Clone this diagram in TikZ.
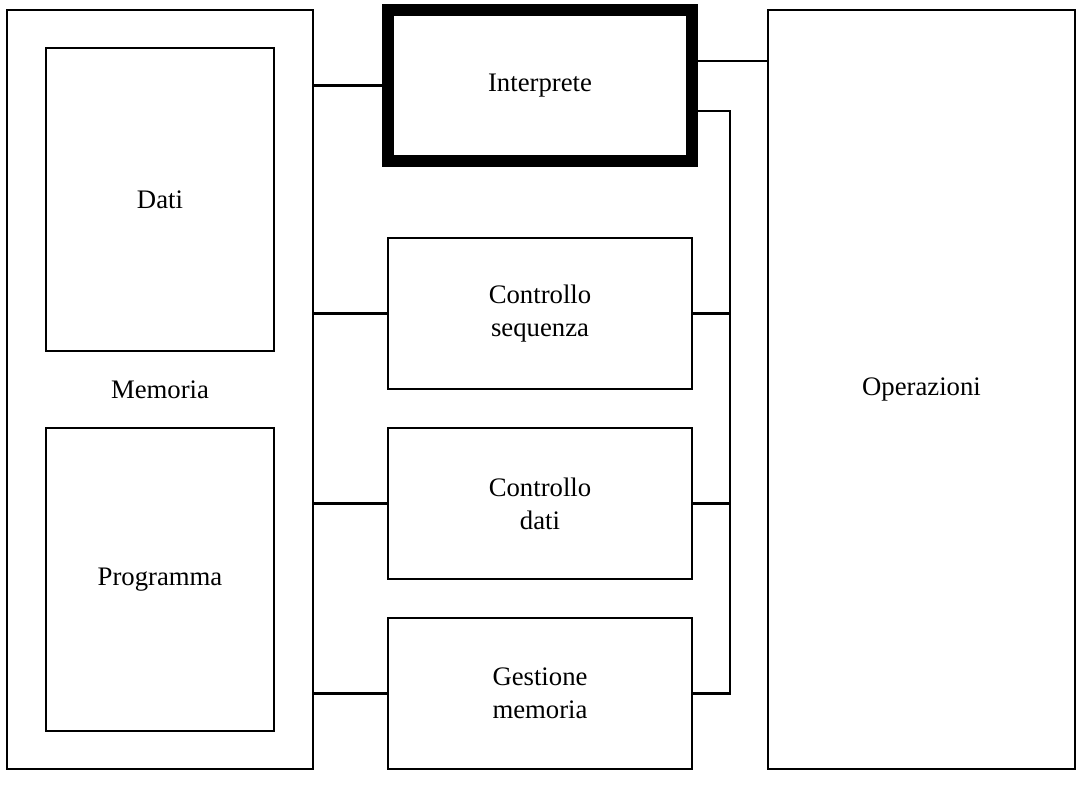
\documentclass[tikz,border=0pt]{standalone}
\usepackage{fontspec}
\setmainfont{Liberation Serif}

\tikzset{
    blocco/.style={draw, line width=0.6pt, inner sep=0pt, align=center},
    filo/.style={line width=0.6pt}
}

\begin{document}
\begin{tikzpicture}[x=0.01cm, y=-0.01cm, font=\fontsize{7.6}{9.4}\selectfont]
    \useasboundingbox (0,0) rectangle (1085,785);

    % memoria con dati e programma
    \node [blocco, minimum width=3.05cm, minimum height=7.59cm] (memoria) at (160,389.5) {Memoria};
    \node [blocco, minimum width=2.28cm, minimum height=3.03cm] (dati) at (160,199.5) {Dati};
    \node [blocco, minimum width=2.28cm, minimum height=3.03cm] (programma) at (160,579.5) {Programma};

    % blocchi centrali
    \node [blocco, line width=3.3pt, minimum width=3.04cm, minimum height=1.51cm] (interprete) at (540,85.5) {Interprete};
    \node [blocco, minimum width=3.04cm, minimum height=1.51cm] (sequenza) at (540,313.5) {Controllo\\sequenza};
    \node [blocco, minimum width=3.04cm, minimum height=1.51cm] (cdati) at (540,503.5) {Controllo\\dati};
    \node [blocco, minimum width=3.04cm, minimum height=1.51cm] (gestione) at (540,693.5) {Gestione\\memoria};

    \node [blocco, minimum width=3.07cm, minimum height=7.59cm] (operazioni) at (921.5,389.5) {Operazioni};

    % collegamenti a sinistra
    \draw [filo] (memoria.east |- interprete.west) -- (interprete.west);
    \draw [filo] (memoria.east |- sequenza.west) -- (sequenza.west);
    \draw [filo] (memoria.east |- cdati.west) -- (cdati.west);
    \draw [filo] (memoria.east |- gestione.west) -- (gestione.west);

    % collegamenti a destra
    \coordinate (bus) at (730,111);
    \draw [filo] (interprete.east |- 0,61) -- (operazioni.west |- 0,61);
    \draw [filo] (interprete.east |- bus) -- (bus) -- (bus |- gestione.east) -- (gestione.east);
    \draw [filo] (sequenza.east) -- (bus |- sequenza.east);
    \draw [filo] (cdati.east) -- (bus |- cdati.east);
\end{tikzpicture}
\end{document}
